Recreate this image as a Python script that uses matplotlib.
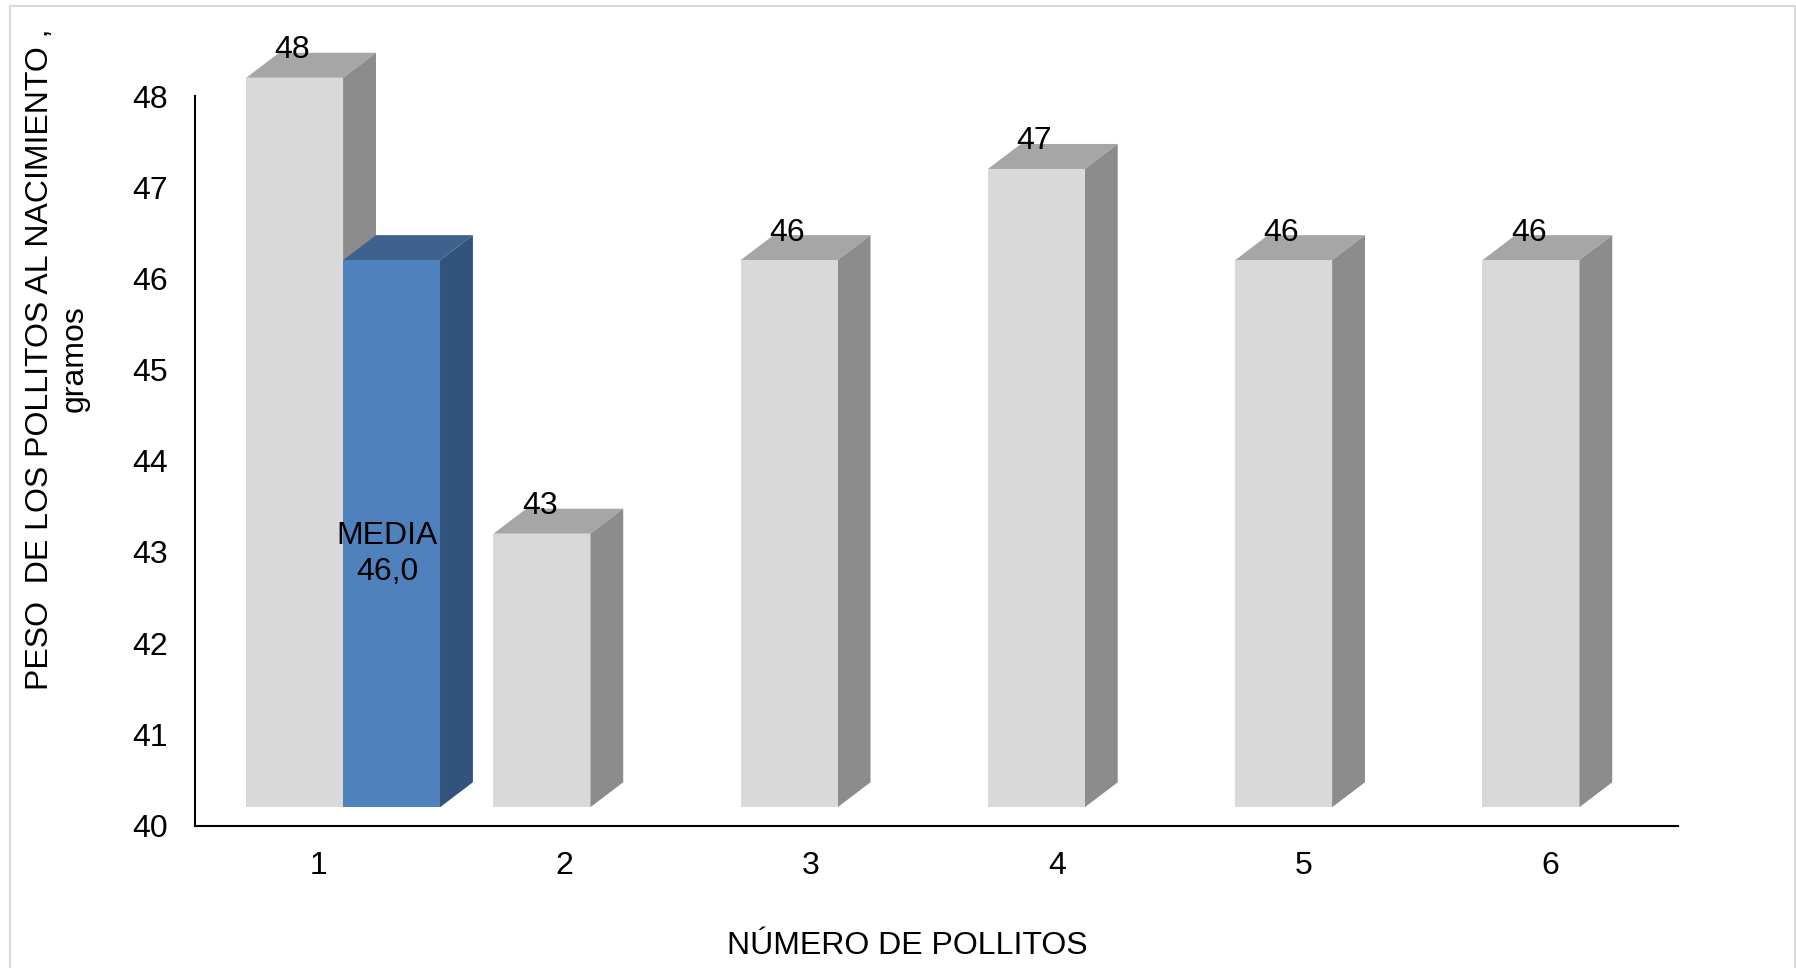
import matplotlib
matplotlib.use('Agg')
import matplotlib.pyplot as plt
from matplotlib.lines import Line2D
from matplotlib.patches import Polygon

plt.rcParams['font.family'] = ['Liberation Sans', 'DejaVu Sans']

# datos
pollitos = [1, 2, 3, 4, 5, 6]
pesos = [48, 43, 46, 47, 46, 46]
media = 46.0
yticks = [40, 41, 42, 43, 44, 45, 46, 47, 48]

# colores de las caras: frente, tapa, lateral
gris = ('#d9d9d9', '#a6a6a6', '#8c8c8c')
azul = ('#4f81bd', '#3e618d', '#32537b')

# geometria de las barras en unidades de los ejes
ancho = 0.392
desplaz_x = -0.291
elevacion = 0.2
fondo_x = 0.133
fondo_y = 0.274
FS = 23


def caja(ax, izq, valor, colores, z):
    der = izq + ancho
    base = 40 + elevacion
    tope = valor + elevacion
    ax.bar(izq, valor - 40, width=ancho, bottom=base, align='edge',
           color=colores[0], zorder=z + 0.2, clip_on=False)
    tapa = [(izq, tope), (der, tope), (der + fondo_x, tope + fondo_y), (izq + fondo_x, tope + fondo_y)]
    lado = [(der, base), (der + fondo_x, base + fondo_y), (der + fondo_x, tope + fondo_y), (der, tope)]
    ax.add_patch(Polygon(tapa, closed=True, fc=colores[1], ec='none', zorder=z, clip_on=False))
    ax.add_patch(Polygon(lado, closed=True, fc=colores[2], ec='none', zorder=z, clip_on=False))


fig = plt.figure(figsize=(17.96, 9.68), dpi=100, facecolor='white')
ax = fig.add_axes([194.5 / 1796, (968 - 825.5) / 968, (1678 - 194.5) / 1796, (825.5 - 96) / 968])

# barras grises, con su etiqueta de valor
for n, p in zip(pollitos, pesos):
    izq = n + desplaz_x
    caja(ax, izq, p, gris, 3)
    ax.annotate(str(p), (izq + ancho / 2, p + elevacion), xytext=(-1.5, 19.8),
                textcoords='offset points', ha='center', va='center',
                fontsize=FS, color='black', zorder=6, annotation_clip=False)

# barra azul de la media, pegada a la primera
izq_media = pollitos[0] + desplaz_x + ancho
caja(ax, izq_media, media, azul, 4)
ax.annotate('MEDIA\n%s' % str(media).replace('.', ','), (izq_media + ancho / 2, 43),
            xytext=(-3, -1.5), textcoords='offset points', ha='center', va='center',
            fontsize=FS, color='black', zorder=6, linespacing=1.235)

ax.set_xlim(0.5, 6.5)
ax.set_ylim(40, 48)
# las marcas del eje x quedan un poco mas juntas que las barras
ax.set_xticks([1 + (n - 1) * 0.9965 for n in pollitos])
ax.set_xticklabels([str(n) for n in pollitos])
ax.set_yticks(yticks)
ax.tick_params(axis='both', length=0, labelsize=FS, colors='black')
ax.tick_params(axis='y', pad=19)
ax.tick_params(axis='x', pad=18.5)
ax.spines['top'].set_visible(False)
ax.spines['right'].set_visible(False)
ax.spines['left'].set_linewidth(1.5)
ax.spines['bottom'].set_linewidth(1.5)
ax.patch.set_alpha(0)

fig.text(57.3 / 1796, 1 - 359 / 968, 'PESO  DE LOS POLLITOS AL NACIMIENTO ,\ngramos',
         rotation=90, ha='center', va='center', multialignment='center',
         fontsize=FS, color='black', linespacing=1.2)
fig.text(907 / 1796, 1 - 946.5 / 968, 'NÚMERO DE POLLITOS', ha='center', va='center',
         fontsize=FS, color='black')

# marco exterior, abierto por abajo
xs = [10 / 1796, 10 / 1796, 1795 / 1796, 1795 / 1796]
ys = [0, 1 - 6 / 968, 1 - 6 / 968, 0]
fig.add_artist(Line2D(xs, ys, color='#d9d9d9', lw=1.5, transform=fig.transFigure))

fig.savefig('out.png', dpi=100)
